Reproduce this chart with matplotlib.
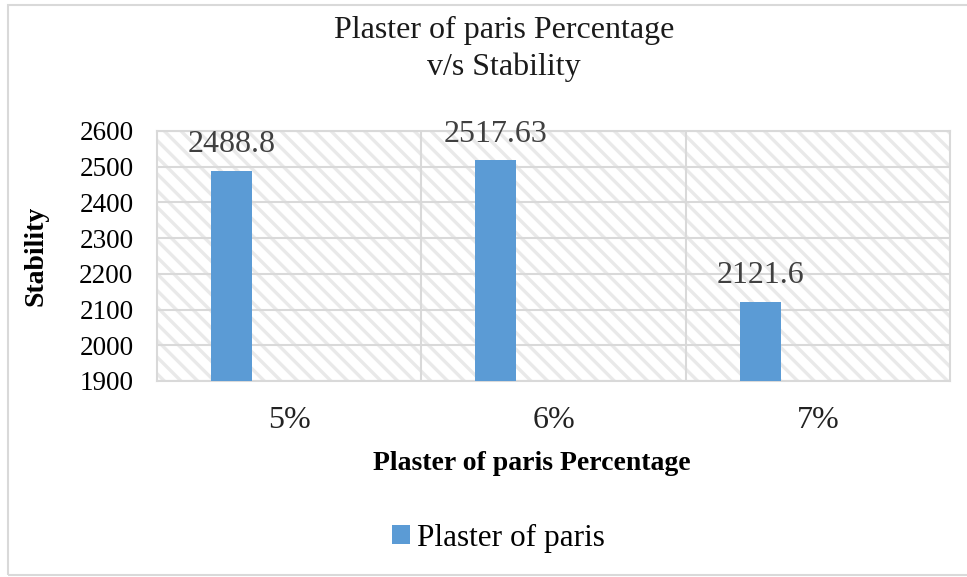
import matplotlib
matplotlib.use("Agg")
import matplotlib.pyplot as plt
from matplotlib.patches import Rectangle
from matplotlib.ticker import MultipleLocator, FixedLocator

categories = ["5%", "6%", "7%"]
stability = [2488.8, 2517.63, 2121.6]
label_text = ["2488.8", "2517.63", "2121.6"]
series_name = "Plaster of paris"
title_text = "Plaster of paris Percentage\nv/s Stability"
x_label = "Plaster of paris Percentage"
y_label = "Stability"

plt.rcParams["font.family"] = ["Liberation Serif", "DejaVu Serif"]
plt.rcParams["hatch.linewidth"] = 2.4

grey = "#d9d9d9"
hatch_grey = "#e9e9e9"
bar_color = "#5b9bd5"

fig = plt.figure(figsize=(9.67, 5.77), dpi=100)
ax = fig.add_axes([157 / 967, 1 - 381 / 577, (950 - 157) / 967, (381 - 131) / 577])

# chart frame
fig.patches.append(Rectangle((8 / 967, 2 / 577), 1.0, 570 / 577,
                             transform=fig.transFigure, fill=False,
                             edgecolor=grey, lw=1.5))

# hatched plot area
ax.set_facecolor("white")
ax.add_patch(Rectangle((0, 0), 1, 1, transform=ax.transAxes, facecolor="none",
                       edgecolor=hatch_grey, lw=0, hatch="\\\\", zorder=0.5))

x = list(range(len(categories)))
offset = -0.218
width = 0.155
bars = ax.bar([i + offset for i in x], stability, width=width, color=bar_color,
              zorder=3, label=series_name)

for b, txt in zip(bars, label_text):
    ax.annotate(txt, (b.get_x() + b.get_width() / 2, b.get_height()),
                xytext=(0, 19), textcoords="offset points", ha="center",
                va="center", fontsize=23, color="#404040", zorder=5)

ax.set_xlim(-0.5, len(categories) - 0.5)
ax.set_ylim(1900, 2600)
ax.yaxis.set_major_locator(MultipleLocator(100))
ax.set_xticks(x)
ax.set_xticklabels(categories)
ax.xaxis.set_minor_locator(FixedLocator([0.5, 1.5]))

ax.grid(axis="y", which="major", color=grey, lw=1.5, zorder=1)
ax.grid(axis="x", which="minor", color=grey, lw=1.5, zorder=1)
ax.set_axisbelow(True)
for s in ax.spines.values():
    s.set_color(grey)
    s.set_linewidth(1.5)

ax.tick_params(axis="both", which="both", length=0)
ax.tick_params(axis="y", labelsize=19.5, pad=17, labelcolor="black")
ax.tick_params(axis="x", labelsize=23, pad=18, labelcolor="#222222")

fig.text(504 / 967, 1 - 49 / 577, title_text, ha="center",
         va="center", fontsize=23, color="#1a1a1a", linespacing=1.3)
fig.text(532 / 967, 1 - 463 / 577, x_label, ha="center", va="center",
         fontsize=20, fontweight="bold")
fig.text(36 / 967, 1 - 256 / 577, y_label, ha="center", va="center",
         fontsize=20, fontweight="bold", rotation=90)

fig.legend(handles=[bars], labels=[series_name], loc="center",
           bbox_to_anchor=(498 / 967, 1 - 538 / 577), frameon=False,
           fontsize=22.5, handlelength=0.6, handleheight=0.6, handletextpad=0.2)

fig.savefig("out.png", dpi=100)
